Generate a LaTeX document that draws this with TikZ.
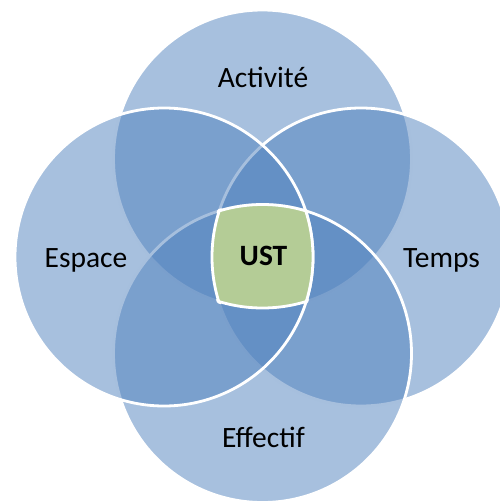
\documentclass[tikz,border=0pt]{standalone}
\usepackage{fontspec}
\setmainfont{Carlito}
\begin{document}
\begin{tikzpicture}[x=1pt,y=-1pt,
  petal/.style={fill={rgb,255:red,79;green,129;blue,189},fill opacity=0.5,draw=white,draw opacity=1,line width=2.8pt},
  rim/.style={white,line width=2.8pt},
  lbl/.style={font=\fontsize{29.5}{35}\selectfont,anchor=base,inner sep=0pt,text=black}]
\useasboundingbox (0,0) rectangle (499,504);
\def\rr{149}
\coordinate (cT) at (262.5,159);
\coordinate (cB) at (262.5,353.5);
\coordinate (cL) at (164,257);
\coordinate (cR) at (361,257);
\definecolor{ustgreen}{RGB}{180,204,150}
% circles, in drawing order
\path[petal] (cT) circle (\rr);
\path[petal] (cR) circle (\rr);
\path[petal] (cB) circle (\rr);
\path[petal] (cL) circle (\rr);
% central intersection
\begin{scope}
  \clip (cT) circle (\rr);
  \clip (cL) circle (\rr);
  \clip (cR) circle (\rr);
  \fill[ustgreen] (cB) circle (\rr);
\end{scope}
\begin{scope}
  \clip (cL) circle (\rr+2); \clip (cR) circle (\rr+2); \clip (cB) circle (\rr+2);
  \draw[rim] (cT) circle (\rr);
\end{scope}
\begin{scope}
  \clip (cT) circle (\rr+2); \clip (cR) circle (\rr+2); \clip (cB) circle (\rr+2);
  \draw[rim] (cL) circle (\rr);
\end{scope}
\begin{scope}
  \clip (cT) circle (\rr+2); \clip (cL) circle (\rr+2); \clip (cB) circle (\rr+2);
  \draw[rim] (cR) circle (\rr);
\end{scope}
\begin{scope}
  \clip (cT) circle (\rr+2); \clip (cL) circle (\rr+2); \clip (cR) circle (\rr+2);
  \draw[rim] (cB) circle (\rr);
\end{scope}
% labels
\node[lbl] (act) at (263,87) {Activité};
\node[lbl] (esp) at (86,267) {Espace};
\node[lbl] (tmp) at (441.5,267) {Temps};
\node[lbl] (eff) at (263.5,447) {Effectif};
\node[lbl,font=\fontsize{29.5}{35}\selectfont\bfseries] (ust) at (263.5,265) {UST};
\end{tikzpicture}
\end{document}
